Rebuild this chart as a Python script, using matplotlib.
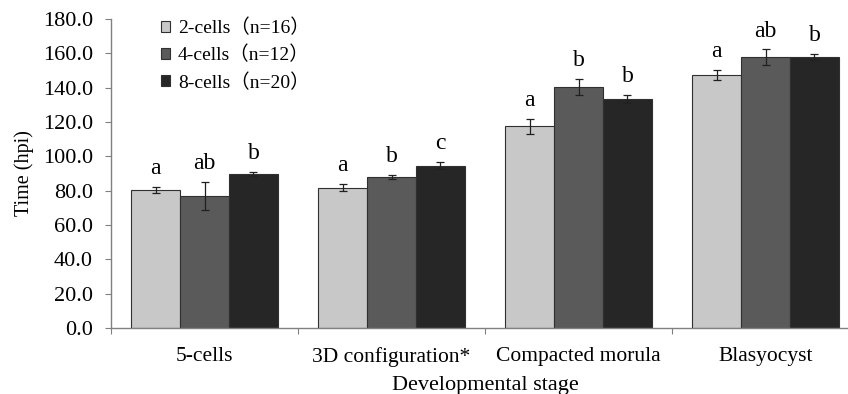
import matplotlib
matplotlib.use("Agg")
import matplotlib.pyplot as plt
import numpy as np

categories = ["5-cells", "3D configuration*", "Compacted morula", "Blasyocyst"]
series_names = ["2-cells\uff08n=16\uff09", "4-cells\uff08n=12\uff09", "8-cells\uff08n=20\uff09"]
vals_2 = [80.2, 81.7, 117.6, 147.5]
vals_4 = [76.9, 87.9, 140.6, 157.8]
vals_8 = [89.7, 94.5, 133.6, 157.8]
err_2 = [1.8, 2.1, 4.3, 2.8]
err_4 = [8.4, 1.1, 4.6, 4.5]
err_8 = [1.4, 2.1, 2.4, 1.7]
letters_2 = ["a", "a", "a", "a"]
letters_4 = ["ab", "b", "b", "ab"]
letters_8 = ["b", "c", "b", "b"]
yticks = [0, 20, 40, 60, 80, 100, 120, 140, 160, 180]

colors = ["#c8c8c8", "#5a5a5a", "#262626"]
plt.rcParams['font.family'] = ['Liberation Serif', 'Noto Sans CJK SC', 'DejaVu Sans']

fig = plt.figure(figsize=(8.48, 3.94), dpi=100)
ax = fig.add_axes([111/848, 66/394, 748/848, 309/394])

x = np.arange(len(categories)) + 0.5
w = 0.262
allvals = [vals_2, vals_4, vals_8]
allerr = [err_2, err_4, err_8]
alllet = [letters_2, letters_4, letters_8]
for i in range(3):
    xs = x + (i - 1) * w
    ax.bar(xs, allvals[i], width=w, color=colors[i], edgecolor="#303030",
           linewidth=0.8, label=series_names[i], zorder=2)
    ax.errorbar(xs, allvals[i], yerr=allerr[i], fmt='none', ecolor='#202020',
                elinewidth=0.9, capsize=3, capthick=0.9, zorder=3)
    for xx, v, e, t in zip(xs, allvals[i], allerr[i], alllet[i]):
        ax.text(xx, v + e + 7.5, t, ha='center', va='baseline', fontsize=17,
                color='black')

ax.set_xlim(0, 4)
ax.set_ylim(0, 180)
ax.set_yticks(yticks)
ax.set_yticklabels([f"{t:.1f}" for t in yticks], fontsize=16)
ax.set_xticks([0, 1, 2, 3, 4])
ax.set_xticklabels([])
ax.set_xticks(x, minor=True)
ax.set_xticklabels(categories, minor=True, fontsize=15.5)
ax.tick_params(axis='x', which='minor', length=0, pad=13.5)
ax.tick_params(axis='x', which='major', length=4, direction='out', color='#808080')
ax.tick_params(axis='y', length=4, direction='out', color='#808080', pad=9)
for s in ['top', 'right']:
    ax.spines[s].set_visible(False)
for s in ['left', 'bottom']:
    ax.spines[s].set_color('#808080')
    ax.spines[s].set_linewidth(1.0)

ax.set_ylabel("Time (hpi)", fontsize=14.5, labelpad=6)
ax.set_xlabel("Developmental stage", fontsize=16, labelpad=6.5)

leg = ax.legend(loc='upper left', bbox_to_anchor=(0.048, 1.045), frameon=False,
                fontsize=14, handlelength=0.5, handleheight=0.5, handletextpad=0.4,
                labelspacing=0.45, borderpad=0.2)
for h in leg.legend_handles:
    h.set_linewidth(0.8)

fig.savefig("out.png", dpi=100)
